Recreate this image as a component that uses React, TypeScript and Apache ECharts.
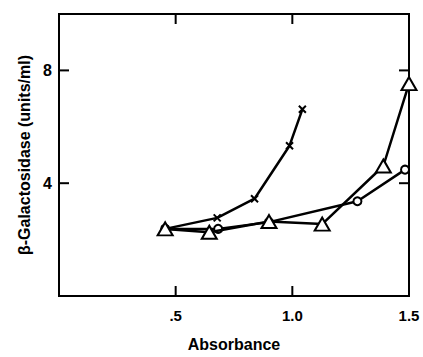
import React, { useEffect, useRef } from "react";
import * as echarts from "echarts";

const crossX = [0.455, 0.678, 0.838, 0.988, 1.043];
const crossY = [2.38, 2.77, 3.45, 5.33, 6.62];

const triX = [0.455, 0.644, 0.9, 1.128, 1.39, 1.5];
const triY = [2.38, 2.26, 2.64, 2.55, 4.61, 7.53];

const circX = [0.455, 0.682, 0.9, 1.279, 1.483];
const circY = [2.38, 2.38, 2.62, 3.36, 4.48];

const xTicks = [0.5, 1.0];
const yTicks = [4, 8];
const xTickLabels: Record<string, string> = { "0": "", "0.5": ".5", "1": "1.0", "1.5": "1.5" };
const yTickLabels: Record<string, string> = { "4": "4", "8": "8" };

const X_MIN = 0;
const X_MAX = 1.5;
const Y_MIN = 0;
const Y_MAX = 10;

const FONT = "Liberation Sans";

function pairs(xs: number[], ys: number[]) {
  return xs.map((x, i) => [x, ys[i]]);
}

const TICK_LEN = 10;
const tickStyle = () => ({ stroke: "#000", lineWidth: 2 });

function renderXTick(params: any, api: any) {
  const v = api.value(0);
  const b = api.coord([v, Y_MIN]);
  const t = api.coord([v, Y_MAX]);
  return {
    type: "group",
    children: [
      { type: "line", shape: { x1: b[0], y1: b[1], x2: b[0], y2: b[1] - TICK_LEN }, style: tickStyle() },
      { type: "line", shape: { x1: t[0], y1: t[1], x2: t[0], y2: t[1] + TICK_LEN }, style: tickStyle() },
    ],
  };
}

function renderYTick(params: any, api: any) {
  const v = api.value(1);
  const l = api.coord([X_MIN, v]);
  const r = api.coord([X_MAX, v]);
  return {
    type: "group",
    children: [
      { type: "line", shape: { x1: l[0], y1: l[1], x2: l[0] + TICK_LEN, y2: l[1] }, style: tickStyle() },
      { type: "line", shape: { x1: r[0], y1: r[1], x2: r[0] - TICK_LEN, y2: r[1] }, style: tickStyle() },
    ],
  };
}

export default function App() {
  const ref = useRef<HTMLDivElement>(null);
  useEffect(() => {
    const chart = echarts.init(ref.current!, undefined, { renderer: "svg" });
    const lineStyle = { color: "#000", width: 2.5 };
    const itemStyle = { color: "#fff", borderColor: "#000", borderWidth: 2 };
    chart.setOption({
      animation: false,
      grid: {
        left: 59,
        right: 14,
        top: 14,
        bottom: 55,
        show: true,
        borderColor: "#000",
        borderWidth: 2,
        backgroundColor: "transparent",
      },
      xAxis: {
        type: "value",
        min: X_MIN,
        max: X_MAX,
        interval: 0.5,
        axisLine: { show: true, onZero: false, lineStyle: { color: "#000", width: 2 } },
        axisTick: { show: false },
        splitLine: { show: false },
        axisLabel: {
          margin: 12,
          color: "#000",
          fontFamily: FONT,
          fontWeight: "bold",
          fontSize: 15,
          formatter: (v: number) => xTickLabels[String(v)] ?? "",
        },
        name: "Absorbance",
        nameLocation: "middle",
        nameGap: 40,
        nameTextStyle: { color: "#000", fontFamily: FONT, fontWeight: "bold", fontSize: 16 },
      },
      yAxis: {
        type: "value",
        min: Y_MIN,
        max: Y_MAX,
        interval: 4,
        axisLine: { show: true, onZero: false, lineStyle: { color: "#000", width: 2 } },
        axisTick: { show: false },
        splitLine: { show: false },
        axisLabel: {
          margin: 7,
          color: "#000",
          fontFamily: FONT,
          fontWeight: "bold",
          fontSize: 16,
          formatter: (v: number) => yTickLabels[String(v)] ?? "",
        },
        name: "β-Galactosidase (units/ml)",
        nameLocation: "middle",
        nameRotate: 90,
        nameGap: 24,
        nameTextStyle: { color: "#000", fontFamily: FONT, fontWeight: "bold", fontSize: 16 },
      },
      series: [
        {
          type: "custom",
          data: xTicks.map((v) => [v, Y_MIN]),
          encode: { x: 0, y: 1 },
          renderItem: renderXTick,
          clip: false,
          silent: true,
          z: 10,
        },
        {
          type: "custom",
          data: yTicks.map((v) => [X_MIN, v]),
          encode: { x: 0, y: 1 },
          renderItem: renderYTick,
          clip: false,
          silent: true,
          z: 10,
        },
        {
          type: "line",
          data: pairs(crossX, crossY),
          symbol: "path://M0,0L10,10M10,0L0,10",
          symbolSize: 7,
          lineStyle,
          itemStyle,
          clip: false,
          z: 3,
        },
        {
          type: "line",
          data: pairs(circX, circY),
          symbol: "circle",
          symbolSize: 8,
          lineStyle,
          itemStyle,
          clip: false,
          z: 4,
        },
        {
          type: "line",
          data: pairs(triX, triY),
          symbol: "triangle",
          symbolSize: [15, 13],
          lineStyle,
          itemStyle,
          clip: false,
          z: 5,
        },
      ],
    });
    return () => chart.dispose();
  }, []);
  return <div ref={ref} style={{ width: 423, height: 357, position: "absolute", left: 0, top: 0 }} />;
}
